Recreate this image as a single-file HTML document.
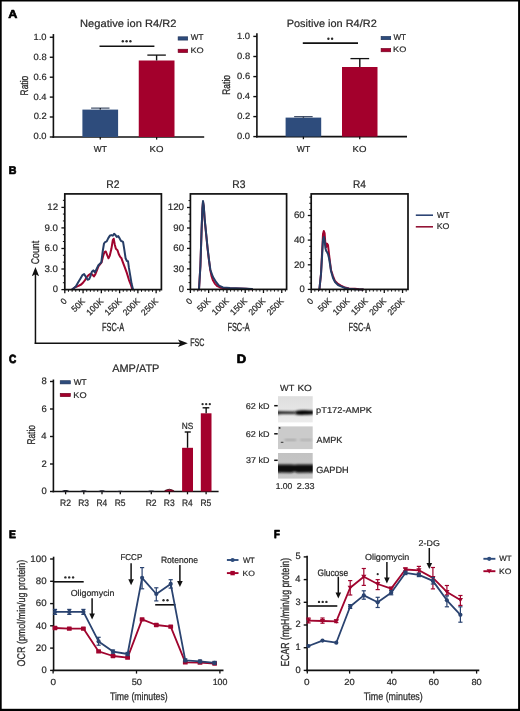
<!DOCTYPE html>
<html><head><meta charset="utf-8"><style>
html,body{margin:0;padding:0;background:#fff;width:520px;height:711px;overflow:hidden}
svg{display:block;will-change:transform}
text{font-family:"Liberation Sans",sans-serif;text-rendering:geometricPrecision}
</style></head><body>
<svg width="520" height="711" viewBox="0 0 520 711" font-family="Liberation Sans, sans-serif" text-rendering="geometricPrecision">
<defs><filter id="bl" x="-20%" y="-50%" width="140%" height="200%"><feGaussianBlur stdDeviation="0.9"/></filter><filter id="bl2" x="-20%" y="-50%" width="140%" height="200%"><feGaussianBlur stdDeviation="0.6"/></filter><filter id="bl3" x="-20%" y="-80%" width="140%" height="260%"><feGaussianBlur stdDeviation="1.0 0.8"/></filter></defs>
<rect x="0.00" y="0.00" width="520.00" height="711.00" fill="#fff"/>
<text transform="translate(8.33 18.15) scale(1.1034 1)" font-size="11.48" font-weight="bold" fill="#000" stroke="#000" stroke-width="0.63" stroke-linejoin="round">A</text>
<text transform="translate(8.74 174.15) scale(0.9648 1)" font-size="11.05" font-weight="bold" fill="#000" stroke="#000" stroke-width="0.73" stroke-linejoin="round">B</text>
<text transform="translate(8.94 363.15) scale(0.8470 1)" font-size="11.92" font-weight="bold" fill="#000" stroke="#000" stroke-width="0.83" stroke-linejoin="round">C</text>
<text transform="translate(236.78 363.15) scale(1.0684 1)" font-size="12.21" font-weight="bold" fill="#000" stroke="#000" stroke-width="0.66" stroke-linejoin="round">D</text>
<text transform="translate(8.96 538.15) scale(0.9359 1)" font-size="11.05" font-weight="bold" fill="#000" stroke="#000" stroke-width="0.75" stroke-linejoin="round">E</text>
<text transform="translate(274.00 538.45) scale(0.8411 1)" font-size="11.48" font-weight="bold" fill="#000" stroke="#000" stroke-width="0.83" stroke-linejoin="round">F</text>
<line x1="53.40" y1="34.05" x2="53.40" y2="137.80" stroke="#111" stroke-width="1.60" stroke-linecap="butt"/>
<line x1="52.60" y1="137.00" x2="204.20" y2="137.00" stroke="#111" stroke-width="1.60" stroke-linecap="butt"/>
<line x1="49.80" y1="37.25" x2="53.40" y2="37.25" stroke="#111" stroke-width="1.40" stroke-linecap="butt"/>
<text transform="translate(33.54 39.69) scale(1.0310 1)" font-size="9.08" fill="#2a2a2a" stroke="#2a2a2a" stroke-width="0.21" stroke-linejoin="round">1.0</text>
<line x1="49.80" y1="57.25" x2="53.40" y2="57.25" stroke="#111" stroke-width="1.40" stroke-linecap="butt"/>
<text transform="translate(33.57 59.69) scale(1.0315 1)" font-size="9.08" fill="#2a2a2a" stroke="#2a2a2a" stroke-width="0.21" stroke-linejoin="round">0.8</text>
<line x1="49.80" y1="77.20" x2="53.40" y2="77.20" stroke="#111" stroke-width="1.40" stroke-linecap="butt"/>
<text transform="translate(33.58 79.64) scale(1.0315 1)" font-size="9.08" fill="#2a2a2a" stroke="#2a2a2a" stroke-width="0.21" stroke-linejoin="round">0.6</text>
<line x1="49.80" y1="97.10" x2="53.40" y2="97.10" stroke="#111" stroke-width="1.40" stroke-linecap="butt"/>
<text transform="translate(33.44 99.54) scale(1.0317 1)" font-size="9.08" fill="#2a2a2a" stroke="#2a2a2a" stroke-width="0.21" stroke-linejoin="round">0.4</text>
<line x1="49.80" y1="117.00" x2="53.40" y2="117.00" stroke="#111" stroke-width="1.40" stroke-linecap="butt"/>
<text transform="translate(33.64 119.44) scale(1.0314 1)" font-size="9.08" fill="#2a2a2a" stroke="#2a2a2a" stroke-width="0.21" stroke-linejoin="round">0.2</text>
<line x1="49.80" y1="137.00" x2="53.40" y2="137.00" stroke="#111" stroke-width="1.40" stroke-linecap="butt"/>
<text transform="translate(33.53 139.44) scale(1.0315 1)" font-size="9.08" fill="#2a2a2a" stroke="#2a2a2a" stroke-width="0.21" stroke-linejoin="round">0.0</text>
<text transform="translate(27.59 95.49) rotate(-90) scale(0.7711 1)" font-size="11.02" fill="#2a2a2a" stroke="#2a2a2a" stroke-width="0.29" stroke-linejoin="round">Ratio</text>
<text transform="translate(80.10 26.64) scale(1.0440 1)" font-size="10.65" fill="#2a2a2a" stroke="#2a2a2a" stroke-width="0.21" stroke-linejoin="round">Negative ion R4/R2</text>
<rect x="82.40" y="109.60" width="35.70" height="27.40" fill="#2e4c7c"/>
<line x1="100.25" y1="137.00" x2="100.25" y2="139.60" stroke="#111" stroke-width="1.30" stroke-linecap="butt"/>
<text transform="translate(93.77 151.79) scale(0.9702 1)" font-size="8.69" fill="#2a2a2a" stroke="#2a2a2a" stroke-width="0.23" stroke-linejoin="round">WT</text>
<rect x="138.75" y="60.50" width="35.75" height="76.50" fill="#a3002c"/>
<line x1="156.62" y1="137.00" x2="156.62" y2="139.60" stroke="#111" stroke-width="1.30" stroke-linecap="butt"/>
<text transform="translate(149.49 151.79) scale(1.1094 1)" font-size="8.69" fill="#2a2a2a" stroke="#2a2a2a" stroke-width="0.20" stroke-linejoin="round">KO</text>
<line x1="100.30" y1="108.10" x2="100.30" y2="109.60" stroke="#111" stroke-width="1.40" stroke-linecap="butt"/>
<line x1="91.10" y1="108.10" x2="109.50" y2="108.10" stroke="#1a2a48" stroke-width="1.00" stroke-linecap="butt"/>
<line x1="156.60" y1="55.10" x2="156.60" y2="60.50" stroke="#111" stroke-width="1.40" stroke-linecap="butt"/>
<line x1="147.35" y1="55.10" x2="165.85" y2="55.10" stroke="#111" stroke-width="1.30" stroke-linecap="butt"/>
<line x1="99.50" y1="46.20" x2="154.40" y2="46.20" stroke="#111" stroke-width="1.60" stroke-linecap="butt"/>
<circle cx="122.80" cy="41.30" r="1.20" fill="#2a2a2a"/>
<circle cx="126.60" cy="41.30" r="1.20" fill="#2a2a2a"/>
<circle cx="130.40" cy="41.30" r="1.20" fill="#2a2a2a"/>
<rect x="178.10" y="36.80" width="9.60" height="3.30" fill="#2e4c7c" stroke="#1c2f55" stroke-width="0.6"/>
<rect x="178.10" y="49.20" width="9.60" height="3.40" fill="#a3002c" stroke="#6a0020" stroke-width="0.6"/>
<text transform="translate(190.87 40.39) scale(0.9818 1)" font-size="8.26" fill="#2a2a2a" stroke="#2a2a2a" stroke-width="0.22" stroke-linejoin="round">WT</text>
<text transform="translate(190.46 52.99) scale(1.1534 1)" font-size="7.97" fill="#2a2a2a" stroke="#2a2a2a" stroke-width="0.19" stroke-linejoin="round">KO</text>
<line x1="256.90" y1="33.20" x2="256.90" y2="137.40" stroke="#111" stroke-width="1.60" stroke-linecap="butt"/>
<line x1="256.10" y1="136.60" x2="407.00" y2="136.60" stroke="#111" stroke-width="1.60" stroke-linecap="butt"/>
<line x1="253.30" y1="36.40" x2="256.90" y2="36.40" stroke="#111" stroke-width="1.40" stroke-linecap="butt"/>
<text transform="translate(237.04 38.84) scale(1.0310 1)" font-size="9.08" fill="#2a2a2a" stroke="#2a2a2a" stroke-width="0.21" stroke-linejoin="round">1.0</text>
<line x1="253.30" y1="56.50" x2="256.90" y2="56.50" stroke="#111" stroke-width="1.40" stroke-linecap="butt"/>
<text transform="translate(237.07 58.94) scale(1.0315 1)" font-size="9.08" fill="#2a2a2a" stroke="#2a2a2a" stroke-width="0.21" stroke-linejoin="round">0.8</text>
<line x1="253.30" y1="76.60" x2="256.90" y2="76.60" stroke="#111" stroke-width="1.40" stroke-linecap="butt"/>
<text transform="translate(237.08 79.04) scale(1.0315 1)" font-size="9.08" fill="#2a2a2a" stroke="#2a2a2a" stroke-width="0.21" stroke-linejoin="round">0.6</text>
<line x1="253.30" y1="96.60" x2="256.90" y2="96.60" stroke="#111" stroke-width="1.40" stroke-linecap="butt"/>
<text transform="translate(236.94 99.04) scale(1.0317 1)" font-size="9.08" fill="#2a2a2a" stroke="#2a2a2a" stroke-width="0.21" stroke-linejoin="round">0.4</text>
<line x1="253.30" y1="116.60" x2="256.90" y2="116.60" stroke="#111" stroke-width="1.40" stroke-linecap="butt"/>
<text transform="translate(237.14 119.04) scale(1.0314 1)" font-size="9.08" fill="#2a2a2a" stroke="#2a2a2a" stroke-width="0.21" stroke-linejoin="round">0.2</text>
<line x1="253.30" y1="136.60" x2="256.90" y2="136.60" stroke="#111" stroke-width="1.40" stroke-linecap="butt"/>
<text transform="translate(237.03 139.04) scale(1.0315 1)" font-size="9.08" fill="#2a2a2a" stroke="#2a2a2a" stroke-width="0.21" stroke-linejoin="round">0.0</text>
<text transform="translate(230.49 94.79) rotate(-90) scale(0.7711 1)" font-size="11.02" fill="#2a2a2a" stroke="#2a2a2a" stroke-width="0.29" stroke-linejoin="round">Ratio</text>
<text transform="translate(286.71 26.64) scale(1.0284 1)" font-size="10.65" fill="#2a2a2a" stroke="#2a2a2a" stroke-width="0.21" stroke-linejoin="round">Positive ion R4/R2</text>
<rect x="285.60" y="117.60" width="35.60" height="19.00" fill="#2e4c7c"/>
<line x1="303.40" y1="136.60" x2="303.40" y2="139.20" stroke="#111" stroke-width="1.30" stroke-linecap="butt"/>
<text transform="translate(296.82 151.79) scale(0.9853 1)" font-size="8.69" fill="#2a2a2a" stroke="#2a2a2a" stroke-width="0.22" stroke-linejoin="round">WT</text>
<rect x="342.00" y="67.00" width="35.50" height="69.60" fill="#a3002c"/>
<line x1="359.75" y1="136.60" x2="359.75" y2="139.20" stroke="#111" stroke-width="1.30" stroke-linecap="butt"/>
<text transform="translate(352.62 151.79) scale(1.1094 1)" font-size="8.69" fill="#2a2a2a" stroke="#2a2a2a" stroke-width="0.20" stroke-linejoin="round">KO</text>
<line x1="303.40" y1="116.70" x2="303.40" y2="117.60" stroke="#111" stroke-width="1.40" stroke-linecap="butt"/>
<line x1="294.15" y1="116.70" x2="312.65" y2="116.70" stroke="#1a2a48" stroke-width="1.00" stroke-linecap="butt"/>
<line x1="359.80" y1="58.60" x2="359.80" y2="67.00" stroke="#111" stroke-width="1.40" stroke-linecap="butt"/>
<line x1="350.45" y1="58.60" x2="369.15" y2="58.60" stroke="#111" stroke-width="1.30" stroke-linecap="butt"/>
<line x1="302.80" y1="43.10" x2="358.00" y2="43.10" stroke="#111" stroke-width="1.60" stroke-linecap="butt"/>
<circle cx="328.40" cy="38.70" r="1.20" fill="#2a2a2a"/>
<circle cx="332.10" cy="38.70" r="1.20" fill="#2a2a2a"/>
<rect x="381.10" y="36.40" width="9.60" height="3.30" fill="#2e4c7c" stroke="#1c2f55" stroke-width="0.6"/>
<rect x="381.10" y="48.40" width="9.60" height="3.40" fill="#a3002c" stroke="#6a0020" stroke-width="0.6"/>
<text transform="translate(393.47 39.99) scale(0.9818 1)" font-size="8.26" fill="#2a2a2a" stroke="#2a2a2a" stroke-width="0.22" stroke-linejoin="round">WT</text>
<text transform="translate(393.06 52.19) scale(1.1534 1)" font-size="7.97" fill="#2a2a2a" stroke="#2a2a2a" stroke-width="0.19" stroke-linejoin="round">KO</text>
<polyline points="72.40,289.20 75.10,287.20 78.50,285.90 81.20,284.50 83.20,282.50 85.20,279.80 87.20,276.40 89.00,274.80 90.80,273.70 92.60,274.80 93.90,276.40 95.30,274.40 96.90,270.40 98.40,266.30 100.00,264.30 101.60,262.30 103.10,256.20 104.40,252.20 105.80,251.50 107.10,254.90 108.50,258.30 109.80,255.60 111.40,248.80 112.80,240.10 113.70,238.70 114.80,244.80 115.90,248.80 117.50,250.20 118.80,254.20 120.20,256.90 121.50,258.30 122.90,262.30 124.90,267.70 126.90,273.10 128.90,279.80 131.00,285.20 132.30,289.20" fill="none" stroke="#a0042e" stroke-width="2.00" stroke-linejoin="round" stroke-linecap="round"/>
<polyline points="72.40,289.20 75.80,286.50 78.50,281.80 80.50,278.50 82.50,275.10 84.10,274.10 85.90,277.10 87.60,279.80 89.20,279.10 90.60,275.80 91.90,271.70 93.30,270.40 94.90,272.40 96.60,269.00 98.40,265.30 100.00,263.60 101.30,262.30 102.70,251.50 104.00,243.50 105.10,242.10 106.70,241.40 108.30,238.10 110.10,235.40 111.40,235.10 112.80,235.70 114.10,233.80 115.50,235.10 116.80,237.00 118.20,236.10 119.50,238.10 120.90,240.80 122.20,241.40 123.10,242.10 124.20,248.80 125.60,258.30 126.90,261.00 128.00,261.20 128.90,267.70 130.30,275.80 131.60,283.80 133.00,289.20" fill="none" stroke="#263d66" stroke-width="2.00" stroke-linejoin="round" stroke-linecap="round"/>
<rect x="64.80" y="193.90" width="96.60" height="95.70" fill="none" stroke="#111" stroke-width="1.7"/>
<line x1="61.40" y1="207.40" x2="64.80" y2="207.40" stroke="#111" stroke-width="1.30" stroke-linecap="butt"/>
<text transform="translate(47.29 210.19) scale(1.0264 1)" font-size="9.45" fill="#2a2a2a" stroke="#2a2a2a" stroke-width="0.21" stroke-linejoin="round">12</text>
<line x1="61.40" y1="227.90" x2="64.80" y2="227.90" stroke="#111" stroke-width="1.30" stroke-linecap="butt"/>
<text transform="translate(44.42 230.69) scale(1.0321 1)" font-size="9.45" fill="#2a2a2a" stroke="#2a2a2a" stroke-width="0.21" stroke-linejoin="round">9.0</text>
<line x1="61.40" y1="248.50" x2="64.80" y2="248.50" stroke="#111" stroke-width="1.30" stroke-linecap="butt"/>
<text transform="translate(44.42 251.29) scale(1.0321 1)" font-size="9.45" fill="#2a2a2a" stroke="#2a2a2a" stroke-width="0.21" stroke-linejoin="round">6.0</text>
<line x1="61.40" y1="269.00" x2="64.80" y2="269.00" stroke="#111" stroke-width="1.30" stroke-linecap="butt"/>
<text transform="translate(44.41 271.79) scale(1.0323 1)" font-size="9.45" fill="#2a2a2a" stroke="#2a2a2a" stroke-width="0.21" stroke-linejoin="round">3.0</text>
<line x1="61.40" y1="289.60" x2="64.80" y2="289.60" stroke="#111" stroke-width="1.30" stroke-linecap="butt"/>
<text transform="translate(52.70 292.39) scale(1.0013 1)" font-size="9.45" fill="#2a2a2a" stroke="#2a2a2a" stroke-width="0.22" stroke-linejoin="round">0</text>
<line x1="62.90" y1="282.73" x2="64.80" y2="282.73" stroke="#111" stroke-width="1.00" stroke-linecap="butt"/>
<line x1="62.90" y1="275.87" x2="64.80" y2="275.87" stroke="#111" stroke-width="1.00" stroke-linecap="butt"/>
<line x1="62.90" y1="262.13" x2="64.80" y2="262.13" stroke="#111" stroke-width="1.00" stroke-linecap="butt"/>
<line x1="62.90" y1="255.27" x2="64.80" y2="255.27" stroke="#111" stroke-width="1.00" stroke-linecap="butt"/>
<line x1="62.90" y1="241.53" x2="64.80" y2="241.53" stroke="#111" stroke-width="1.00" stroke-linecap="butt"/>
<line x1="62.90" y1="234.67" x2="64.80" y2="234.67" stroke="#111" stroke-width="1.00" stroke-linecap="butt"/>
<line x1="62.90" y1="220.93" x2="64.80" y2="220.93" stroke="#111" stroke-width="1.00" stroke-linecap="butt"/>
<line x1="62.90" y1="214.07" x2="64.80" y2="214.07" stroke="#111" stroke-width="1.00" stroke-linecap="butt"/>
<line x1="62.90" y1="200.33" x2="64.80" y2="200.33" stroke="#111" stroke-width="1.00" stroke-linecap="butt"/>
<line x1="64.80" y1="289.60" x2="64.80" y2="293.20" stroke="#111" stroke-width="1.30" stroke-linecap="butt"/>
<line x1="68.45" y1="289.60" x2="68.45" y2="291.80" stroke="#111" stroke-width="1.00" stroke-linecap="butt"/>
<line x1="72.11" y1="289.60" x2="72.11" y2="291.80" stroke="#111" stroke-width="1.00" stroke-linecap="butt"/>
<line x1="75.76" y1="289.60" x2="75.76" y2="291.80" stroke="#111" stroke-width="1.00" stroke-linecap="butt"/>
<line x1="79.42" y1="289.60" x2="79.42" y2="291.80" stroke="#111" stroke-width="1.00" stroke-linecap="butt"/>
<line x1="83.07" y1="289.60" x2="83.07" y2="293.20" stroke="#111" stroke-width="1.30" stroke-linecap="butt"/>
<line x1="86.72" y1="289.60" x2="86.72" y2="291.80" stroke="#111" stroke-width="1.00" stroke-linecap="butt"/>
<line x1="90.38" y1="289.60" x2="90.38" y2="291.80" stroke="#111" stroke-width="1.00" stroke-linecap="butt"/>
<line x1="94.03" y1="289.60" x2="94.03" y2="291.80" stroke="#111" stroke-width="1.00" stroke-linecap="butt"/>
<line x1="97.69" y1="289.60" x2="97.69" y2="291.80" stroke="#111" stroke-width="1.00" stroke-linecap="butt"/>
<line x1="101.34" y1="289.60" x2="101.34" y2="293.20" stroke="#111" stroke-width="1.30" stroke-linecap="butt"/>
<line x1="104.99" y1="289.60" x2="104.99" y2="291.80" stroke="#111" stroke-width="1.00" stroke-linecap="butt"/>
<line x1="108.65" y1="289.60" x2="108.65" y2="291.80" stroke="#111" stroke-width="1.00" stroke-linecap="butt"/>
<line x1="112.30" y1="289.60" x2="112.30" y2="291.80" stroke="#111" stroke-width="1.00" stroke-linecap="butt"/>
<line x1="115.96" y1="289.60" x2="115.96" y2="291.80" stroke="#111" stroke-width="1.00" stroke-linecap="butt"/>
<line x1="119.61" y1="289.60" x2="119.61" y2="293.20" stroke="#111" stroke-width="1.30" stroke-linecap="butt"/>
<line x1="123.26" y1="289.60" x2="123.26" y2="291.80" stroke="#111" stroke-width="1.00" stroke-linecap="butt"/>
<line x1="126.92" y1="289.60" x2="126.92" y2="291.80" stroke="#111" stroke-width="1.00" stroke-linecap="butt"/>
<line x1="130.57" y1="289.60" x2="130.57" y2="291.80" stroke="#111" stroke-width="1.00" stroke-linecap="butt"/>
<line x1="134.23" y1="289.60" x2="134.23" y2="291.80" stroke="#111" stroke-width="1.00" stroke-linecap="butt"/>
<line x1="137.88" y1="289.60" x2="137.88" y2="293.20" stroke="#111" stroke-width="1.30" stroke-linecap="butt"/>
<line x1="141.53" y1="289.60" x2="141.53" y2="291.80" stroke="#111" stroke-width="1.00" stroke-linecap="butt"/>
<line x1="145.19" y1="289.60" x2="145.19" y2="291.80" stroke="#111" stroke-width="1.00" stroke-linecap="butt"/>
<line x1="148.84" y1="289.60" x2="148.84" y2="291.80" stroke="#111" stroke-width="1.00" stroke-linecap="butt"/>
<line x1="152.50" y1="289.60" x2="152.50" y2="291.80" stroke="#111" stroke-width="1.00" stroke-linecap="butt"/>
<line x1="156.15" y1="289.60" x2="156.15" y2="293.20" stroke="#111" stroke-width="1.30" stroke-linecap="butt"/>
<line x1="159.80" y1="289.60" x2="159.80" y2="291.80" stroke="#111" stroke-width="1.00" stroke-linecap="butt"/>
<text transform="translate(67.40 301.70) rotate(-45)" font-size="8.6" text-anchor="end" fill="#2a2a2a" stroke="#2a2a2a" stroke-width="0.22">0</text>
<text transform="translate(85.67 301.70) rotate(-45)" font-size="8.6" text-anchor="end" fill="#2a2a2a" stroke="#2a2a2a" stroke-width="0.22">50K</text>
<text transform="translate(103.94 301.70) rotate(-45)" font-size="8.6" text-anchor="end" fill="#2a2a2a" stroke="#2a2a2a" stroke-width="0.22">100K</text>
<text transform="translate(122.21 301.70) rotate(-45)" font-size="8.6" text-anchor="end" fill="#2a2a2a" stroke="#2a2a2a" stroke-width="0.22">150K</text>
<text transform="translate(140.48 301.70) rotate(-45)" font-size="8.6" text-anchor="end" fill="#2a2a2a" stroke="#2a2a2a" stroke-width="0.22">200K</text>
<text transform="translate(158.75 301.70) rotate(-45)" font-size="8.6" text-anchor="end" fill="#2a2a2a" stroke="#2a2a2a" stroke-width="0.22">250K</text>
<text transform="translate(106.16 187.69) scale(0.9409 1)" font-size="11.02" fill="#2a2a2a" stroke="#2a2a2a" stroke-width="0.23" stroke-linejoin="round">R2</text>
<text transform="translate(102.00 330.69) scale(0.6301 1)" font-size="11.74" fill="#2a2a2a" stroke="#2a2a2a" stroke-width="0.35" stroke-linejoin="round">FSC-A</text>
<polyline points="199.00,289.40 200.40,266.00 201.60,230.00 202.40,209.00 203.00,202.00 203.80,207.00 204.60,219.00 206.00,233.00 207.60,249.00 209.00,260.40 210.20,269.60 211.40,275.60 212.80,280.00 214.80,283.60 217.40,286.20 221.00,287.80 226.00,288.20 236.00,288.40 246.00,288.80 252.00,289.20" fill="none" stroke="#a0042e" stroke-width="2.00" stroke-linejoin="round" stroke-linecap="round"/>
<polyline points="199.00,289.40 200.40,266.00 201.60,230.00 202.40,208.00 203.00,201.00 203.80,206.00 204.60,218.00 206.00,232.00 207.60,248.00 209.00,260.00 210.40,270.00 213.00,277.00 216.00,282.00 219.00,285.60 223.00,287.40 230.00,288.00 242.00,288.40 252.00,289.00" fill="none" stroke="#263d66" stroke-width="2.00" stroke-linejoin="round" stroke-linecap="round"/>
<rect x="190.40" y="193.90" width="96.20" height="95.50" fill="none" stroke="#111" stroke-width="1.7"/>
<line x1="187.00" y1="207.50" x2="190.40" y2="207.50" stroke="#111" stroke-width="1.30" stroke-linecap="butt"/>
<text transform="translate(167.76 210.29) scale(1.0350 1)" font-size="9.45" fill="#2a2a2a" stroke="#2a2a2a" stroke-width="0.21" stroke-linejoin="round">120</text>
<line x1="187.00" y1="228.00" x2="190.40" y2="228.00" stroke="#111" stroke-width="1.30" stroke-linecap="butt"/>
<text transform="translate(173.27 230.79) scale(1.0273 1)" font-size="9.45" fill="#2a2a2a" stroke="#2a2a2a" stroke-width="0.21" stroke-linejoin="round">90</text>
<line x1="187.00" y1="248.40" x2="190.40" y2="248.40" stroke="#111" stroke-width="1.30" stroke-linecap="butt"/>
<text transform="translate(173.27 251.19) scale(1.0272 1)" font-size="9.45" fill="#2a2a2a" stroke="#2a2a2a" stroke-width="0.21" stroke-linejoin="round">60</text>
<line x1="187.00" y1="268.90" x2="190.40" y2="268.90" stroke="#111" stroke-width="1.30" stroke-linecap="butt"/>
<text transform="translate(173.27 271.69) scale(1.0275 1)" font-size="9.45" fill="#2a2a2a" stroke="#2a2a2a" stroke-width="0.21" stroke-linejoin="round">30</text>
<line x1="187.00" y1="289.40" x2="190.40" y2="289.40" stroke="#111" stroke-width="1.30" stroke-linecap="butt"/>
<text transform="translate(178.80 292.19) scale(1.0013 1)" font-size="9.45" fill="#2a2a2a" stroke="#2a2a2a" stroke-width="0.22" stroke-linejoin="round">0</text>
<line x1="188.50" y1="282.57" x2="190.40" y2="282.57" stroke="#111" stroke-width="1.00" stroke-linecap="butt"/>
<line x1="188.50" y1="275.73" x2="190.40" y2="275.73" stroke="#111" stroke-width="1.00" stroke-linecap="butt"/>
<line x1="188.50" y1="262.07" x2="190.40" y2="262.07" stroke="#111" stroke-width="1.00" stroke-linecap="butt"/>
<line x1="188.50" y1="255.23" x2="190.40" y2="255.23" stroke="#111" stroke-width="1.00" stroke-linecap="butt"/>
<line x1="188.50" y1="241.57" x2="190.40" y2="241.57" stroke="#111" stroke-width="1.00" stroke-linecap="butt"/>
<line x1="188.50" y1="234.73" x2="190.40" y2="234.73" stroke="#111" stroke-width="1.00" stroke-linecap="butt"/>
<line x1="188.50" y1="221.07" x2="190.40" y2="221.07" stroke="#111" stroke-width="1.00" stroke-linecap="butt"/>
<line x1="188.50" y1="214.23" x2="190.40" y2="214.23" stroke="#111" stroke-width="1.00" stroke-linecap="butt"/>
<line x1="188.50" y1="200.57" x2="190.40" y2="200.57" stroke="#111" stroke-width="1.00" stroke-linecap="butt"/>
<line x1="190.40" y1="289.40" x2="190.40" y2="293.00" stroke="#111" stroke-width="1.30" stroke-linecap="butt"/>
<line x1="194.05" y1="289.40" x2="194.05" y2="291.60" stroke="#111" stroke-width="1.00" stroke-linecap="butt"/>
<line x1="197.71" y1="289.40" x2="197.71" y2="291.60" stroke="#111" stroke-width="1.00" stroke-linecap="butt"/>
<line x1="201.36" y1="289.40" x2="201.36" y2="291.60" stroke="#111" stroke-width="1.00" stroke-linecap="butt"/>
<line x1="205.02" y1="289.40" x2="205.02" y2="291.60" stroke="#111" stroke-width="1.00" stroke-linecap="butt"/>
<line x1="208.67" y1="289.40" x2="208.67" y2="293.00" stroke="#111" stroke-width="1.30" stroke-linecap="butt"/>
<line x1="212.32" y1="289.40" x2="212.32" y2="291.60" stroke="#111" stroke-width="1.00" stroke-linecap="butt"/>
<line x1="215.98" y1="289.40" x2="215.98" y2="291.60" stroke="#111" stroke-width="1.00" stroke-linecap="butt"/>
<line x1="219.63" y1="289.40" x2="219.63" y2="291.60" stroke="#111" stroke-width="1.00" stroke-linecap="butt"/>
<line x1="223.29" y1="289.40" x2="223.29" y2="291.60" stroke="#111" stroke-width="1.00" stroke-linecap="butt"/>
<line x1="226.94" y1="289.40" x2="226.94" y2="293.00" stroke="#111" stroke-width="1.30" stroke-linecap="butt"/>
<line x1="230.59" y1="289.40" x2="230.59" y2="291.60" stroke="#111" stroke-width="1.00" stroke-linecap="butt"/>
<line x1="234.25" y1="289.40" x2="234.25" y2="291.60" stroke="#111" stroke-width="1.00" stroke-linecap="butt"/>
<line x1="237.90" y1="289.40" x2="237.90" y2="291.60" stroke="#111" stroke-width="1.00" stroke-linecap="butt"/>
<line x1="241.56" y1="289.40" x2="241.56" y2="291.60" stroke="#111" stroke-width="1.00" stroke-linecap="butt"/>
<line x1="245.21" y1="289.40" x2="245.21" y2="293.00" stroke="#111" stroke-width="1.30" stroke-linecap="butt"/>
<line x1="248.86" y1="289.40" x2="248.86" y2="291.60" stroke="#111" stroke-width="1.00" stroke-linecap="butt"/>
<line x1="252.52" y1="289.40" x2="252.52" y2="291.60" stroke="#111" stroke-width="1.00" stroke-linecap="butt"/>
<line x1="256.17" y1="289.40" x2="256.17" y2="291.60" stroke="#111" stroke-width="1.00" stroke-linecap="butt"/>
<line x1="259.83" y1="289.40" x2="259.83" y2="291.60" stroke="#111" stroke-width="1.00" stroke-linecap="butt"/>
<line x1="263.48" y1="289.40" x2="263.48" y2="293.00" stroke="#111" stroke-width="1.30" stroke-linecap="butt"/>
<line x1="267.13" y1="289.40" x2="267.13" y2="291.60" stroke="#111" stroke-width="1.00" stroke-linecap="butt"/>
<line x1="270.79" y1="289.40" x2="270.79" y2="291.60" stroke="#111" stroke-width="1.00" stroke-linecap="butt"/>
<line x1="274.44" y1="289.40" x2="274.44" y2="291.60" stroke="#111" stroke-width="1.00" stroke-linecap="butt"/>
<line x1="278.10" y1="289.40" x2="278.10" y2="291.60" stroke="#111" stroke-width="1.00" stroke-linecap="butt"/>
<line x1="281.75" y1="289.40" x2="281.75" y2="293.00" stroke="#111" stroke-width="1.30" stroke-linecap="butt"/>
<line x1="285.40" y1="289.40" x2="285.40" y2="291.60" stroke="#111" stroke-width="1.00" stroke-linecap="butt"/>
<text transform="translate(193.00 301.50) rotate(-45)" font-size="8.6" text-anchor="end" fill="#2a2a2a" stroke="#2a2a2a" stroke-width="0.22">0</text>
<text transform="translate(211.27 301.50) rotate(-45)" font-size="8.6" text-anchor="end" fill="#2a2a2a" stroke="#2a2a2a" stroke-width="0.22">50K</text>
<text transform="translate(229.54 301.50) rotate(-45)" font-size="8.6" text-anchor="end" fill="#2a2a2a" stroke="#2a2a2a" stroke-width="0.22">100K</text>
<text transform="translate(247.81 301.50) rotate(-45)" font-size="8.6" text-anchor="end" fill="#2a2a2a" stroke="#2a2a2a" stroke-width="0.22">150K</text>
<text transform="translate(266.08 301.50) rotate(-45)" font-size="8.6" text-anchor="end" fill="#2a2a2a" stroke="#2a2a2a" stroke-width="0.22">200K</text>
<text transform="translate(284.35 301.50) rotate(-45)" font-size="8.6" text-anchor="end" fill="#2a2a2a" stroke="#2a2a2a" stroke-width="0.22">250K</text>
<text transform="translate(232.31 187.69) scale(0.9357 1)" font-size="11.02" fill="#2a2a2a" stroke="#2a2a2a" stroke-width="0.24" stroke-linejoin="round">R3</text>
<text transform="translate(227.40 330.69) scale(0.6301 1)" font-size="11.74" fill="#2a2a2a" stroke="#2a2a2a" stroke-width="0.35" stroke-linejoin="round">FSC-A</text>
<polyline points="319.40,289.40 321.00,274.00 322.20,250.00 323.00,234.00 323.80,231.00 324.60,233.00 325.40,244.00 326.20,247.00 327.00,243.60 328.00,245.00 329.00,254.00 330.00,262.00 331.00,270.00 333.00,276.00 335.00,281.00 338.00,284.00 341.00,285.60 345.00,287.60 349.00,288.40 355.00,288.80 359.00,289.20 363.00,289.40" fill="none" stroke="#a0042e" stroke-width="2.00" stroke-linejoin="round" stroke-linecap="round"/>
<polyline points="319.40,289.40 321.00,274.00 322.20,254.00 323.00,240.00 323.80,237.00 324.60,240.00 325.40,248.00 326.20,251.00 327.00,252.00 328.00,254.00 329.00,258.00 330.00,264.00 331.00,271.00 333.00,278.00 335.00,282.00 338.00,285.00 341.00,286.40 345.00,288.00 349.00,288.80 355.00,289.20 363.00,289.40" fill="none" stroke="#263d66" stroke-width="2.00" stroke-linejoin="round" stroke-linecap="round"/>
<rect x="311.20" y="193.90" width="96.80" height="95.50" fill="none" stroke="#111" stroke-width="1.7"/>
<line x1="307.80" y1="215.50" x2="311.20" y2="215.50" stroke="#111" stroke-width="1.30" stroke-linecap="butt"/>
<text transform="translate(293.97 218.29) scale(1.0272 1)" font-size="9.45" fill="#2a2a2a" stroke="#2a2a2a" stroke-width="0.21" stroke-linejoin="round">60</text>
<line x1="307.80" y1="240.10" x2="311.20" y2="240.10" stroke="#111" stroke-width="1.30" stroke-linecap="butt"/>
<text transform="translate(293.97 242.89) scale(1.0278 1)" font-size="9.45" fill="#2a2a2a" stroke="#2a2a2a" stroke-width="0.21" stroke-linejoin="round">40</text>
<line x1="307.80" y1="264.80" x2="311.20" y2="264.80" stroke="#111" stroke-width="1.30" stroke-linecap="butt"/>
<text transform="translate(293.97 267.59) scale(1.0272 1)" font-size="9.45" fill="#2a2a2a" stroke="#2a2a2a" stroke-width="0.21" stroke-linejoin="round">20</text>
<line x1="307.80" y1="289.40" x2="311.20" y2="289.40" stroke="#111" stroke-width="1.30" stroke-linecap="butt"/>
<text transform="translate(299.50 292.19) scale(1.0013 1)" font-size="9.45" fill="#2a2a2a" stroke="#2a2a2a" stroke-width="0.22" stroke-linejoin="round">0</text>
<line x1="309.30" y1="283.25" x2="311.20" y2="283.25" stroke="#111" stroke-width="1.00" stroke-linecap="butt"/>
<line x1="309.30" y1="277.10" x2="311.20" y2="277.10" stroke="#111" stroke-width="1.00" stroke-linecap="butt"/>
<line x1="309.30" y1="270.95" x2="311.20" y2="270.95" stroke="#111" stroke-width="1.00" stroke-linecap="butt"/>
<line x1="309.30" y1="258.65" x2="311.20" y2="258.65" stroke="#111" stroke-width="1.00" stroke-linecap="butt"/>
<line x1="309.30" y1="252.50" x2="311.20" y2="252.50" stroke="#111" stroke-width="1.00" stroke-linecap="butt"/>
<line x1="309.30" y1="246.35" x2="311.20" y2="246.35" stroke="#111" stroke-width="1.00" stroke-linecap="butt"/>
<line x1="309.30" y1="234.05" x2="311.20" y2="234.05" stroke="#111" stroke-width="1.00" stroke-linecap="butt"/>
<line x1="309.30" y1="227.90" x2="311.20" y2="227.90" stroke="#111" stroke-width="1.00" stroke-linecap="butt"/>
<line x1="309.30" y1="221.75" x2="311.20" y2="221.75" stroke="#111" stroke-width="1.00" stroke-linecap="butt"/>
<line x1="309.30" y1="209.45" x2="311.20" y2="209.45" stroke="#111" stroke-width="1.00" stroke-linecap="butt"/>
<line x1="309.30" y1="203.30" x2="311.20" y2="203.30" stroke="#111" stroke-width="1.00" stroke-linecap="butt"/>
<line x1="309.30" y1="197.15" x2="311.20" y2="197.15" stroke="#111" stroke-width="1.00" stroke-linecap="butt"/>
<line x1="311.20" y1="289.40" x2="311.20" y2="293.00" stroke="#111" stroke-width="1.30" stroke-linecap="butt"/>
<line x1="314.85" y1="289.40" x2="314.85" y2="291.60" stroke="#111" stroke-width="1.00" stroke-linecap="butt"/>
<line x1="318.51" y1="289.40" x2="318.51" y2="291.60" stroke="#111" stroke-width="1.00" stroke-linecap="butt"/>
<line x1="322.16" y1="289.40" x2="322.16" y2="291.60" stroke="#111" stroke-width="1.00" stroke-linecap="butt"/>
<line x1="325.82" y1="289.40" x2="325.82" y2="291.60" stroke="#111" stroke-width="1.00" stroke-linecap="butt"/>
<line x1="329.47" y1="289.40" x2="329.47" y2="293.00" stroke="#111" stroke-width="1.30" stroke-linecap="butt"/>
<line x1="333.12" y1="289.40" x2="333.12" y2="291.60" stroke="#111" stroke-width="1.00" stroke-linecap="butt"/>
<line x1="336.78" y1="289.40" x2="336.78" y2="291.60" stroke="#111" stroke-width="1.00" stroke-linecap="butt"/>
<line x1="340.43" y1="289.40" x2="340.43" y2="291.60" stroke="#111" stroke-width="1.00" stroke-linecap="butt"/>
<line x1="344.09" y1="289.40" x2="344.09" y2="291.60" stroke="#111" stroke-width="1.00" stroke-linecap="butt"/>
<line x1="347.74" y1="289.40" x2="347.74" y2="293.00" stroke="#111" stroke-width="1.30" stroke-linecap="butt"/>
<line x1="351.39" y1="289.40" x2="351.39" y2="291.60" stroke="#111" stroke-width="1.00" stroke-linecap="butt"/>
<line x1="355.05" y1="289.40" x2="355.05" y2="291.60" stroke="#111" stroke-width="1.00" stroke-linecap="butt"/>
<line x1="358.70" y1="289.40" x2="358.70" y2="291.60" stroke="#111" stroke-width="1.00" stroke-linecap="butt"/>
<line x1="362.36" y1="289.40" x2="362.36" y2="291.60" stroke="#111" stroke-width="1.00" stroke-linecap="butt"/>
<line x1="366.01" y1="289.40" x2="366.01" y2="293.00" stroke="#111" stroke-width="1.30" stroke-linecap="butt"/>
<line x1="369.66" y1="289.40" x2="369.66" y2="291.60" stroke="#111" stroke-width="1.00" stroke-linecap="butt"/>
<line x1="373.32" y1="289.40" x2="373.32" y2="291.60" stroke="#111" stroke-width="1.00" stroke-linecap="butt"/>
<line x1="376.97" y1="289.40" x2="376.97" y2="291.60" stroke="#111" stroke-width="1.00" stroke-linecap="butt"/>
<line x1="380.63" y1="289.40" x2="380.63" y2="291.60" stroke="#111" stroke-width="1.00" stroke-linecap="butt"/>
<line x1="384.28" y1="289.40" x2="384.28" y2="293.00" stroke="#111" stroke-width="1.30" stroke-linecap="butt"/>
<line x1="387.93" y1="289.40" x2="387.93" y2="291.60" stroke="#111" stroke-width="1.00" stroke-linecap="butt"/>
<line x1="391.59" y1="289.40" x2="391.59" y2="291.60" stroke="#111" stroke-width="1.00" stroke-linecap="butt"/>
<line x1="395.24" y1="289.40" x2="395.24" y2="291.60" stroke="#111" stroke-width="1.00" stroke-linecap="butt"/>
<line x1="398.90" y1="289.40" x2="398.90" y2="291.60" stroke="#111" stroke-width="1.00" stroke-linecap="butt"/>
<line x1="402.55" y1="289.40" x2="402.55" y2="293.00" stroke="#111" stroke-width="1.30" stroke-linecap="butt"/>
<line x1="406.20" y1="289.40" x2="406.20" y2="291.60" stroke="#111" stroke-width="1.00" stroke-linecap="butt"/>
<text transform="translate(313.80 301.50) rotate(-45)" font-size="8.6" text-anchor="end" fill="#2a2a2a" stroke="#2a2a2a" stroke-width="0.22">0</text>
<text transform="translate(332.07 301.50) rotate(-45)" font-size="8.6" text-anchor="end" fill="#2a2a2a" stroke="#2a2a2a" stroke-width="0.22">50K</text>
<text transform="translate(350.34 301.50) rotate(-45)" font-size="8.6" text-anchor="end" fill="#2a2a2a" stroke="#2a2a2a" stroke-width="0.22">100K</text>
<text transform="translate(368.61 301.50) rotate(-45)" font-size="8.6" text-anchor="end" fill="#2a2a2a" stroke="#2a2a2a" stroke-width="0.22">150K</text>
<text transform="translate(386.88 301.50) rotate(-45)" font-size="8.6" text-anchor="end" fill="#2a2a2a" stroke="#2a2a2a" stroke-width="0.22">200K</text>
<text transform="translate(405.15 301.50) rotate(-45)" font-size="8.6" text-anchor="end" fill="#2a2a2a" stroke="#2a2a2a" stroke-width="0.22">250K</text>
<text transform="translate(353.02 187.69) scale(0.9240 1)" font-size="11.02" fill="#2a2a2a" stroke="#2a2a2a" stroke-width="0.24" stroke-linejoin="round">R4</text>
<text transform="translate(348.50 330.69) scale(0.6301 1)" font-size="11.74" fill="#2a2a2a" stroke="#2a2a2a" stroke-width="0.35" stroke-linejoin="round">FSC-A</text>
<text transform="translate(38.79 264.34) rotate(-90) scale(0.7886 1)" font-size="11.16" fill="#2a2a2a" stroke="#2a2a2a" stroke-width="0.28" stroke-linejoin="round">Count</text>
<line x1="35.45" y1="273.50" x2="35.45" y2="343.95" stroke="#111" stroke-width="1.50" stroke-linecap="butt"/>
<polygon points="31.8,276.3 35.45,267.0 39.1,276.3 35.45,274.2" fill="#111"/>
<line x1="34.70" y1="343.20" x2="181.00" y2="343.20" stroke="#111" stroke-width="1.60" stroke-linecap="butt"/>
<polygon points="178.0,339.4 187.8,343.2 178.0,347.0 180.2,343.2" fill="#111"/>
<text transform="translate(190.13 346.49) scale(0.6547 1)" font-size="10.87" fill="#2a2a2a" stroke="#2a2a2a" stroke-width="0.34" stroke-linejoin="round">FSC</text>
<line x1="415.80" y1="215.20" x2="433.00" y2="215.20" stroke="#2d4575" stroke-width="1.60" stroke-linecap="butt"/>
<line x1="415.80" y1="226.80" x2="433.00" y2="226.80" stroke="#931436" stroke-width="1.60" stroke-linecap="butt"/>
<text transform="translate(437.07 217.89) scale(0.9659 1)" font-size="8.26" fill="#2a2a2a" stroke="#2a2a2a" stroke-width="0.23" stroke-linejoin="round">WT</text>
<text transform="translate(436.68 229.49) scale(1.0759 1)" font-size="8.26" fill="#2a2a2a" stroke="#2a2a2a" stroke-width="0.20" stroke-linejoin="round">KO</text>
<text transform="translate(112.19 372.19) scale(1.0074 1)" font-size="10.87" fill="#2a2a2a" stroke="#2a2a2a" stroke-width="0.22" stroke-linejoin="round">AMP/ATP</text>
<line x1="53.40" y1="379.50" x2="53.40" y2="492.30" stroke="#111" stroke-width="1.60" stroke-linecap="butt"/>
<line x1="52.60" y1="491.50" x2="218.60" y2="491.50" stroke="#111" stroke-width="1.60" stroke-linecap="butt"/>
<line x1="50.00" y1="381.50" x2="53.40" y2="381.50" stroke="#111" stroke-width="1.40" stroke-linecap="butt"/>
<text transform="translate(41.44 384.29) scale(1.0004 1)" font-size="9.45" fill="#2a2a2a" stroke="#2a2a2a" stroke-width="0.22" stroke-linejoin="round">8</text>
<line x1="50.00" y1="409.00" x2="53.40" y2="409.00" stroke="#111" stroke-width="1.40" stroke-linecap="butt"/>
<text transform="translate(41.45 411.79) scale(0.9995 1)" font-size="9.45" fill="#2a2a2a" stroke="#2a2a2a" stroke-width="0.22" stroke-linejoin="round">6</text>
<line x1="50.00" y1="436.50" x2="53.40" y2="436.50" stroke="#111" stroke-width="1.40" stroke-linecap="butt"/>
<text transform="translate(41.29 439.29) scale(1.0038 1)" font-size="9.45" fill="#2a2a2a" stroke="#2a2a2a" stroke-width="0.22" stroke-linejoin="round">4</text>
<line x1="50.00" y1="464.00" x2="53.40" y2="464.00" stroke="#111" stroke-width="1.40" stroke-linecap="butt"/>
<text transform="translate(41.52 466.79) scale(0.9989 1)" font-size="9.45" fill="#2a2a2a" stroke="#2a2a2a" stroke-width="0.22" stroke-linejoin="round">2</text>
<line x1="50.00" y1="491.50" x2="53.40" y2="491.50" stroke="#111" stroke-width="1.40" stroke-linecap="butt"/>
<text transform="translate(41.40 494.29) scale(1.0013 1)" font-size="9.45" fill="#2a2a2a" stroke="#2a2a2a" stroke-width="0.22" stroke-linejoin="round">0</text>
<text transform="translate(35.09 444.58) rotate(-90) scale(0.7393 1)" font-size="11.31" fill="#2a2a2a" stroke="#2a2a2a" stroke-width="0.30" stroke-linejoin="round">Ratio</text>
<line x1="65.60" y1="491.50" x2="65.60" y2="494.30" stroke="#111" stroke-width="1.30" stroke-linecap="butt"/>
<text transform="translate(60.01 506.39) scale(0.9061 1)" font-size="9.42" fill="#2a2a2a" stroke="#2a2a2a" stroke-width="0.24" stroke-linejoin="round">R2</text>
<line x1="83.80" y1="491.50" x2="83.80" y2="494.30" stroke="#111" stroke-width="1.30" stroke-linecap="butt"/>
<text transform="translate(78.21 506.39) scale(0.9011 1)" font-size="9.42" fill="#2a2a2a" stroke="#2a2a2a" stroke-width="0.24" stroke-linejoin="round">R3</text>
<line x1="102.00" y1="491.50" x2="102.00" y2="494.30" stroke="#111" stroke-width="1.30" stroke-linecap="butt"/>
<text transform="translate(96.42 506.39) scale(0.8898 1)" font-size="9.42" fill="#2a2a2a" stroke="#2a2a2a" stroke-width="0.25" stroke-linejoin="round">R4</text>
<line x1="120.30" y1="491.50" x2="120.30" y2="494.30" stroke="#111" stroke-width="1.30" stroke-linecap="butt"/>
<text transform="translate(114.71 506.39) scale(0.8996 1)" font-size="9.42" fill="#2a2a2a" stroke="#2a2a2a" stroke-width="0.24" stroke-linejoin="round">R5</text>
<line x1="151.30" y1="491.50" x2="151.30" y2="494.30" stroke="#111" stroke-width="1.30" stroke-linecap="butt"/>
<text transform="translate(145.71 506.39) scale(0.9061 1)" font-size="9.42" fill="#2a2a2a" stroke="#2a2a2a" stroke-width="0.24" stroke-linejoin="round">R2</text>
<line x1="169.40" y1="491.50" x2="169.40" y2="494.30" stroke="#111" stroke-width="1.30" stroke-linecap="butt"/>
<text transform="translate(163.81 506.39) scale(0.9011 1)" font-size="9.42" fill="#2a2a2a" stroke="#2a2a2a" stroke-width="0.24" stroke-linejoin="round">R3</text>
<line x1="187.50" y1="491.50" x2="187.50" y2="494.30" stroke="#111" stroke-width="1.30" stroke-linecap="butt"/>
<text transform="translate(181.92 506.39) scale(0.8898 1)" font-size="9.42" fill="#2a2a2a" stroke="#2a2a2a" stroke-width="0.25" stroke-linejoin="round">R4</text>
<line x1="206.10" y1="491.50" x2="206.10" y2="494.30" stroke="#111" stroke-width="1.30" stroke-linecap="butt"/>
<text transform="translate(200.51 506.39) scale(0.8996 1)" font-size="9.42" fill="#2a2a2a" stroke="#2a2a2a" stroke-width="0.24" stroke-linejoin="round">R5</text>
<path d="M61.00,491.80 C63.00,489.50 68.20,489.50 70.20,491.80 Z" fill="#1e1e28"/>
<path d="M79.20,491.80 C81.20,489.80 86.40,489.80 88.40,491.80 Z" fill="#1e1e28"/>
<path d="M97.40,491.80 C99.40,489.80 104.60,489.80 106.60,491.80 Z" fill="#1e1e28"/>
<path d="M115.70,491.80 C117.70,490.50 122.90,490.50 124.90,491.80 Z" fill="#1e1e28"/>
<path d="M146.70,491.80 C148.70,490.20 153.90,490.20 155.90,491.80 Z" fill="#1e1e28"/>
<path d="M164.90,491.50 L164.90,490.50 Q169.30,487.90 173.70,490.50 L173.70,491.50 Z" fill="#a3002c" stroke="#3a0a14" stroke-width="0.8"/>
<rect x="182.10" y="447.80" width="10.90" height="43.70" fill="#a3002c"/>
<rect x="200.80" y="413.30" width="10.70" height="78.20" fill="#a3002c"/>
<line x1="187.55" y1="432.00" x2="187.55" y2="447.80" stroke="#111" stroke-width="1.40" stroke-linecap="butt"/>
<line x1="184.70" y1="432.00" x2="190.80" y2="432.00" stroke="#111" stroke-width="1.40" stroke-linecap="butt"/>
<line x1="206.15" y1="407.80" x2="206.15" y2="413.30" stroke="#111" stroke-width="1.40" stroke-linecap="butt"/>
<line x1="202.60" y1="407.80" x2="209.30" y2="407.80" stroke="#111" stroke-width="1.40" stroke-linecap="butt"/>
<text transform="translate(181.73 429.09) scale(0.9251 1)" font-size="8.98" fill="#2a2a2a" stroke="#2a2a2a" stroke-width="0.24" stroke-linejoin="round">NS</text>
<circle cx="202.60" cy="404.20" r="1.15" fill="#2a2a2a"/>
<circle cx="206.20" cy="404.20" r="1.15" fill="#2a2a2a"/>
<circle cx="209.80" cy="404.20" r="1.15" fill="#2a2a2a"/>
<rect x="60.20" y="380.70" width="10.20" height="3.20" fill="#2e4c7c" stroke="#1c2f55" stroke-width="0.6"/>
<rect x="60.20" y="393.30" width="10.20" height="3.40" fill="#a3002c" stroke="#6a0020" stroke-width="0.6"/>
<text transform="translate(73.67 385.19) scale(1.0056 1)" font-size="8.26" fill="#2a2a2a" stroke="#2a2a2a" stroke-width="0.22" stroke-linejoin="round">WT</text>
<text transform="translate(73.25 397.89) scale(1.1026 1)" font-size="8.40" fill="#2a2a2a" stroke="#2a2a2a" stroke-width="0.20" stroke-linejoin="round">KO</text>
<text transform="translate(280.07 390.89) scale(1.0358 1)" font-size="8.84" fill="#2a2a2a" stroke="#2a2a2a" stroke-width="0.21" stroke-linejoin="round">WT</text>
<text transform="translate(297.49 390.89) scale(1.1256 1)" font-size="8.84" fill="#2a2a2a" stroke="#2a2a2a" stroke-width="0.20" stroke-linejoin="round">KO</text>
<linearGradient id="g1" x1="0" y1="0" x2="0" y2="1"><stop offset="0" stop-color="#dedede"/><stop offset="1" stop-color="#ececec"/></linearGradient>
<rect x="278.00" y="396.20" width="34.70" height="26.20" fill="url(#g1)"/>
<rect x="278.00" y="426.40" width="34.70" height="22.70" fill="#cbcbcb"/>
<linearGradient id="g3" x1="0" y1="0" x2="0" y2="1"><stop offset="0" stop-color="#c2c2c2"/><stop offset="1" stop-color="#cacaca"/></linearGradient>
<rect x="278.00" y="453.00" width="34.70" height="25.60" fill="url(#g3)"/>
<clipPath id="cb1"><rect x="278.0" y="396.2" width="34.7" height="26.2"/></clipPath>
<clipPath id="cb3"><rect x="278.0" y="453.0" width="34.7" height="25.6"/></clipPath>
<g clip-path="url(#cb1)"><g filter="url(#bl3)">
<path d="M276,411.0 L282,411.2 L295,411.6 L295,414.1 L282,414.1 L276,414.5 Z" fill="#1c1c1c"/>
<path d="M295.5,410.9 C300,409.8 306,410.1 315,410.7 L315,414.3 C306,414.9 300,415.1 295.5,414.6 Z" fill="#050505"/>
</g></g>
<g filter="url(#bl)">
<rect x="284.5" y="438.9" width="12" height="1.8" rx="0.9" fill="#a4a4a4"/>
<rect x="300" y="438.9" width="12" height="1.8" rx="0.9" fill="#acacac"/>
</g>
<g clip-path="url(#cb3)"><g filter="url(#bl3)">
<path d="M276,464.6 L292,464.4 Q294.5,465.2 297,464.4 L315,464.6 L315,472.6 L297,472.8 Q294.5,470.6 292,472.8 L276,472.6 Z" fill="#0c0c0c"/>
</g></g>
<circle cx="279.60" cy="427.90" r="0.95" fill="#222"/>
<line x1="280.80" y1="442.30" x2="283.40" y2="442.30" stroke="#333" stroke-width="1.00" stroke-linecap="butt"/>
<line x1="274.20" y1="405.70" x2="277.70" y2="405.70" stroke="#111" stroke-width="1.50" stroke-linecap="butt"/>
<text transform="translate(245.85 408.69) scale(1.0787 1)" font-size="8.40" fill="#2a2a2a" stroke="#2a2a2a" stroke-width="0.20" stroke-linejoin="round">62 kD</text>
<line x1="274.20" y1="433.80" x2="277.70" y2="433.80" stroke="#111" stroke-width="1.50" stroke-linecap="butt"/>
<text transform="translate(245.85 436.79) scale(1.0787 1)" font-size="8.40" fill="#2a2a2a" stroke="#2a2a2a" stroke-width="0.20" stroke-linejoin="round">62 kD</text>
<line x1="274.20" y1="460.30" x2="277.70" y2="460.30" stroke="#111" stroke-width="1.50" stroke-linecap="butt"/>
<text transform="translate(245.97 463.29) scale(1.0733 1)" font-size="8.40" fill="#2a2a2a" stroke="#2a2a2a" stroke-width="0.20" stroke-linejoin="round">37 kD</text>
<text transform="translate(316.01 413.39) scale(1.0894 1)" font-size="8.55" fill="#2a2a2a" stroke="#2a2a2a" stroke-width="0.20" stroke-linejoin="round">pT172-AMPK</text>
<text transform="translate(316.59 443.19) scale(1.0262 1)" font-size="8.84" fill="#2a2a2a" stroke="#2a2a2a" stroke-width="0.21" stroke-linejoin="round">AMPK</text>
<text transform="translate(316.15 472.89) scale(1.0202 1)" font-size="8.98" fill="#2a2a2a" stroke="#2a2a2a" stroke-width="0.22" stroke-linejoin="round">GAPDH</text>
<text transform="translate(275.66 489.39) scale(0.9956 1)" font-size="8.55" fill="#2a2a2a" stroke="#2a2a2a" stroke-width="0.22" stroke-linejoin="round">1.00</text>
<text transform="translate(296.85 489.39) scale(1.0601 1)" font-size="8.55" fill="#2a2a2a" stroke="#2a2a2a" stroke-width="0.21" stroke-linejoin="round">2.33</text>
<line x1="53.60" y1="556.70" x2="53.60" y2="671.20" stroke="#111" stroke-width="1.60" stroke-linecap="butt"/>
<line x1="52.80" y1="670.40" x2="223.50" y2="670.40" stroke="#111" stroke-width="1.60" stroke-linecap="butt"/>
<line x1="50.10" y1="559.00" x2="53.60" y2="559.00" stroke="#111" stroke-width="1.40" stroke-linecap="butt"/>
<text transform="translate(30.36 561.79) scale(1.0350 1)" font-size="9.45" fill="#2a2a2a" stroke="#2a2a2a" stroke-width="0.21" stroke-linejoin="round">100</text>
<line x1="50.10" y1="581.30" x2="53.60" y2="581.30" stroke="#111" stroke-width="1.40" stroke-linecap="butt"/>
<text transform="translate(35.87 584.09) scale(1.0274 1)" font-size="9.45" fill="#2a2a2a" stroke="#2a2a2a" stroke-width="0.21" stroke-linejoin="round">80</text>
<line x1="50.10" y1="603.60" x2="53.60" y2="603.60" stroke="#111" stroke-width="1.40" stroke-linecap="butt"/>
<text transform="translate(35.87 606.39) scale(1.0272 1)" font-size="9.45" fill="#2a2a2a" stroke="#2a2a2a" stroke-width="0.21" stroke-linejoin="round">60</text>
<line x1="50.10" y1="625.80" x2="53.60" y2="625.80" stroke="#111" stroke-width="1.40" stroke-linecap="butt"/>
<text transform="translate(35.87 628.59) scale(1.0278 1)" font-size="9.45" fill="#2a2a2a" stroke="#2a2a2a" stroke-width="0.21" stroke-linejoin="round">40</text>
<line x1="50.10" y1="648.10" x2="53.60" y2="648.10" stroke="#111" stroke-width="1.40" stroke-linecap="butt"/>
<text transform="translate(35.87 650.89) scale(1.0272 1)" font-size="9.45" fill="#2a2a2a" stroke="#2a2a2a" stroke-width="0.21" stroke-linejoin="round">20</text>
<line x1="50.10" y1="670.40" x2="53.60" y2="670.40" stroke="#111" stroke-width="1.40" stroke-linecap="butt"/>
<text transform="translate(41.40 673.19) scale(1.0013 1)" font-size="9.45" fill="#2a2a2a" stroke="#2a2a2a" stroke-width="0.22" stroke-linejoin="round">0</text>
<text transform="translate(25.29 666.41) rotate(-90) scale(0.8004 1)" font-size="11.16" fill="#2a2a2a" stroke="#2a2a2a" stroke-width="0.27" stroke-linejoin="round">OCR (pmol/min/ug protein)</text>
<line x1="53.10" y1="670.40" x2="53.10" y2="673.60" stroke="#111" stroke-width="1.30" stroke-linecap="butt"/>
<line x1="136.50" y1="670.40" x2="136.50" y2="673.60" stroke="#111" stroke-width="1.30" stroke-linecap="butt"/>
<line x1="219.90" y1="670.40" x2="219.90" y2="673.60" stroke="#111" stroke-width="1.30" stroke-linecap="butt"/>
<text transform="translate(50.62 684.89) scale(1.1132 1)" font-size="8.98" fill="#2a2a2a" stroke="#2a2a2a" stroke-width="0.20" stroke-linejoin="round">0</text>
<text transform="translate(131.64 684.89) scale(1.0322 1)" font-size="8.98" fill="#2a2a2a" stroke="#2a2a2a" stroke-width="0.21" stroke-linejoin="round">50</text>
<text transform="translate(212.63 684.89) scale(0.9877 1)" font-size="8.98" fill="#2a2a2a" stroke="#2a2a2a" stroke-width="0.22" stroke-linejoin="round">100</text>
<text transform="translate(109.91 700.39) scale(0.8031 1)" font-size="10.87" fill="#2a2a2a" stroke="#2a2a2a" stroke-width="0.27" stroke-linejoin="round">Time (minutes)</text>
<line x1="53.60" y1="581.80" x2="83.70" y2="581.80" stroke="#111" stroke-width="1.60" stroke-linecap="butt"/>
<circle cx="65.40" cy="577.40" r="1.20" fill="#2a2a2a"/>
<circle cx="69.20" cy="577.40" r="1.20" fill="#2a2a2a"/>
<circle cx="73.10" cy="577.40" r="1.20" fill="#2a2a2a"/>
<text transform="translate(70.69 595.69) scale(1.0207 1)" font-size="8.69" fill="#2a2a2a" stroke="#2a2a2a" stroke-width="0.22" stroke-linejoin="round">Oligomycin</text>
<line x1="92.10" y1="598.30" x2="92.10" y2="613.90" stroke="#111" stroke-width="1.50" stroke-linecap="butt"/>
<polygon points="89.30,613.40 94.90,613.40 92.10,619.40" fill="#111"/>
<text transform="translate(120.45 560.39) scale(0.9352 1)" font-size="8.55" fill="#2a2a2a" stroke="#2a2a2a" stroke-width="0.24" stroke-linejoin="round">FCCP</text>
<line x1="131.10" y1="563.20" x2="131.10" y2="579.70" stroke="#111" stroke-width="1.50" stroke-linecap="butt"/>
<polygon points="128.30,579.20 133.90,579.20 131.10,585.20" fill="#111"/>
<text transform="translate(160.91 563.09) scale(0.9388 1)" font-size="9.13" fill="#2a2a2a" stroke="#2a2a2a" stroke-width="0.23" stroke-linejoin="round">Rotenone</text>
<line x1="179.90" y1="565.00" x2="179.90" y2="581.40" stroke="#111" stroke-width="1.50" stroke-linecap="butt"/>
<polygon points="177.10,580.90 182.70,580.90 179.90,586.90" fill="#111"/>
<line x1="155.20" y1="604.80" x2="175.50" y2="604.80" stroke="#111" stroke-width="1.60" stroke-linecap="butt"/>
<circle cx="163.50" cy="600.30" r="1.20" fill="#2a2a2a"/>
<circle cx="167.50" cy="600.30" r="1.20" fill="#2a2a2a"/>
<polyline points="55.00,628.00 69.30,628.60 83.40,628.60 98.60,651.40 113.00,656.00 127.60,657.60 142.10,619.40 156.30,625.00 170.70,626.60 185.30,662.40 200.00,662.60 214.60,663.50" fill="none" stroke="#a0042e" stroke-width="1.80" stroke-linejoin="round" stroke-linecap="round"/>
<rect x="52.60" y="625.80" width="4.80" height="4.40" fill="#a0042e" rx="0.6"/>
<rect x="66.90" y="626.40" width="4.80" height="4.40" fill="#a0042e" rx="0.6"/>
<rect x="81.00" y="626.40" width="4.80" height="4.40" fill="#a0042e" rx="0.6"/>
<rect x="96.20" y="649.20" width="4.80" height="4.40" fill="#a0042e" rx="0.6"/>
<rect x="110.60" y="653.80" width="4.80" height="4.40" fill="#a0042e" rx="0.6"/>
<rect x="125.20" y="655.40" width="4.80" height="4.40" fill="#a0042e" rx="0.6"/>
<rect x="139.70" y="617.20" width="4.80" height="4.40" fill="#a0042e" rx="0.6"/>
<rect x="153.90" y="622.80" width="4.80" height="4.40" fill="#a0042e" rx="0.6"/>
<rect x="168.30" y="624.40" width="4.80" height="4.40" fill="#a0042e" rx="0.6"/>
<rect x="182.90" y="660.20" width="4.80" height="4.40" fill="#a0042e" rx="0.6"/>
<rect x="197.60" y="660.40" width="4.80" height="4.40" fill="#a0042e" rx="0.6"/>
<rect x="212.20" y="661.30" width="4.80" height="4.40" fill="#a0042e" rx="0.6"/>
<polyline points="55.00,611.90 69.30,611.90 83.40,611.90 98.60,641.40 113.00,651.60 127.60,654.00 142.10,577.80 156.30,594.00 170.70,583.90 185.30,660.30 200.00,661.40 214.60,662.80" fill="none" stroke="#2a4370" stroke-width="1.80" stroke-linejoin="round" stroke-linecap="round"/>
<line x1="55.00" y1="609.40" x2="55.00" y2="614.40" stroke="#2a4370" stroke-width="1.20" stroke-linecap="butt"/>
<line x1="52.90" y1="609.40" x2="57.10" y2="609.40" stroke="#2a4370" stroke-width="1.20" stroke-linecap="butt"/>
<line x1="52.90" y1="614.40" x2="57.10" y2="614.40" stroke="#2a4370" stroke-width="1.20" stroke-linecap="butt"/>
<circle cx="55.00" cy="611.90" r="2.1" fill="#2a4370"/>
<line x1="69.30" y1="609.40" x2="69.30" y2="614.40" stroke="#2a4370" stroke-width="1.20" stroke-linecap="butt"/>
<line x1="67.20" y1="609.40" x2="71.40" y2="609.40" stroke="#2a4370" stroke-width="1.20" stroke-linecap="butt"/>
<line x1="67.20" y1="614.40" x2="71.40" y2="614.40" stroke="#2a4370" stroke-width="1.20" stroke-linecap="butt"/>
<circle cx="69.30" cy="611.90" r="2.1" fill="#2a4370"/>
<line x1="83.40" y1="609.40" x2="83.40" y2="614.40" stroke="#2a4370" stroke-width="1.20" stroke-linecap="butt"/>
<line x1="81.30" y1="609.40" x2="85.50" y2="609.40" stroke="#2a4370" stroke-width="1.20" stroke-linecap="butt"/>
<line x1="81.30" y1="614.40" x2="85.50" y2="614.40" stroke="#2a4370" stroke-width="1.20" stroke-linecap="butt"/>
<circle cx="83.40" cy="611.90" r="2.1" fill="#2a4370"/>
<line x1="98.60" y1="637.30" x2="98.60" y2="645.20" stroke="#2a4370" stroke-width="1.20" stroke-linecap="butt"/>
<line x1="96.50" y1="637.30" x2="100.70" y2="637.30" stroke="#2a4370" stroke-width="1.20" stroke-linecap="butt"/>
<line x1="96.50" y1="645.20" x2="100.70" y2="645.20" stroke="#2a4370" stroke-width="1.20" stroke-linecap="butt"/>
<circle cx="98.60" cy="641.40" r="2.1" fill="#2a4370"/>
<line x1="113.00" y1="650.00" x2="113.00" y2="653.20" stroke="#2a4370" stroke-width="1.20" stroke-linecap="butt"/>
<line x1="110.90" y1="650.00" x2="115.10" y2="650.00" stroke="#2a4370" stroke-width="1.20" stroke-linecap="butt"/>
<line x1="110.90" y1="653.20" x2="115.10" y2="653.20" stroke="#2a4370" stroke-width="1.20" stroke-linecap="butt"/>
<circle cx="113.00" cy="651.60" r="2.1" fill="#2a4370"/>
<line x1="127.60" y1="652.40" x2="127.60" y2="655.60" stroke="#2a4370" stroke-width="1.20" stroke-linecap="butt"/>
<line x1="125.50" y1="652.40" x2="129.70" y2="652.40" stroke="#2a4370" stroke-width="1.20" stroke-linecap="butt"/>
<line x1="125.50" y1="655.60" x2="129.70" y2="655.60" stroke="#2a4370" stroke-width="1.20" stroke-linecap="butt"/>
<circle cx="127.60" cy="654.00" r="2.1" fill="#2a4370"/>
<line x1="142.10" y1="567.60" x2="142.10" y2="588.80" stroke="#2a4370" stroke-width="1.20" stroke-linecap="butt"/>
<line x1="140.00" y1="567.60" x2="144.20" y2="567.60" stroke="#2a4370" stroke-width="1.20" stroke-linecap="butt"/>
<line x1="140.00" y1="588.80" x2="144.20" y2="588.80" stroke="#2a4370" stroke-width="1.20" stroke-linecap="butt"/>
<circle cx="142.10" cy="577.80" r="2.1" fill="#2a4370"/>
<line x1="156.30" y1="587.80" x2="156.30" y2="600.90" stroke="#2a4370" stroke-width="1.20" stroke-linecap="butt"/>
<line x1="154.20" y1="587.80" x2="158.40" y2="587.80" stroke="#2a4370" stroke-width="1.20" stroke-linecap="butt"/>
<line x1="154.20" y1="600.90" x2="158.40" y2="600.90" stroke="#2a4370" stroke-width="1.20" stroke-linecap="butt"/>
<circle cx="156.30" cy="594.00" r="2.1" fill="#2a4370"/>
<line x1="170.70" y1="579.70" x2="170.70" y2="588.10" stroke="#2a4370" stroke-width="1.20" stroke-linecap="butt"/>
<line x1="168.60" y1="579.70" x2="172.80" y2="579.70" stroke="#2a4370" stroke-width="1.20" stroke-linecap="butt"/>
<line x1="168.60" y1="588.10" x2="172.80" y2="588.10" stroke="#2a4370" stroke-width="1.20" stroke-linecap="butt"/>
<circle cx="170.70" cy="583.90" r="2.1" fill="#2a4370"/>
<line x1="185.30" y1="658.90" x2="185.30" y2="661.70" stroke="#2a4370" stroke-width="1.20" stroke-linecap="butt"/>
<line x1="183.20" y1="658.90" x2="187.40" y2="658.90" stroke="#2a4370" stroke-width="1.20" stroke-linecap="butt"/>
<line x1="183.20" y1="661.70" x2="187.40" y2="661.70" stroke="#2a4370" stroke-width="1.20" stroke-linecap="butt"/>
<circle cx="185.30" cy="660.30" r="2.1" fill="#2a4370"/>
<line x1="200.00" y1="660.00" x2="200.00" y2="662.80" stroke="#2a4370" stroke-width="1.20" stroke-linecap="butt"/>
<line x1="197.90" y1="660.00" x2="202.10" y2="660.00" stroke="#2a4370" stroke-width="1.20" stroke-linecap="butt"/>
<line x1="197.90" y1="662.80" x2="202.10" y2="662.80" stroke="#2a4370" stroke-width="1.20" stroke-linecap="butt"/>
<circle cx="200.00" cy="661.40" r="2.1" fill="#2a4370"/>
<line x1="214.60" y1="661.40" x2="214.60" y2="664.20" stroke="#2a4370" stroke-width="1.20" stroke-linecap="butt"/>
<line x1="212.50" y1="661.40" x2="216.70" y2="661.40" stroke="#2a4370" stroke-width="1.20" stroke-linecap="butt"/>
<line x1="212.50" y1="664.20" x2="216.70" y2="664.20" stroke="#2a4370" stroke-width="1.20" stroke-linecap="butt"/>
<circle cx="214.60" cy="662.80" r="2.1" fill="#2a4370"/>
<line x1="226.90" y1="560.00" x2="238.50" y2="560.00" stroke="#2e4c7c" stroke-width="1.90" stroke-linecap="butt"/>
<circle cx="232.6" cy="560.0" r="2.1" fill="#2e4c7c"/>
<line x1="226.90" y1="573.10" x2="238.50" y2="573.10" stroke="#a3002c" stroke-width="1.90" stroke-linecap="butt"/>
<rect x="230.40" y="570.90" width="4.40" height="4.40" fill="#a3002c"/>
<text transform="translate(242.88 562.89) scale(0.9519 1)" font-size="7.97" fill="#2a2a2a" stroke="#2a2a2a" stroke-width="0.23" stroke-linejoin="round">WT</text>
<text transform="translate(242.51 575.69) scale(1.1178 1)" font-size="7.67" fill="#2a2a2a" stroke="#2a2a2a" stroke-width="0.20" stroke-linejoin="round">KO</text>
<line x1="307.10" y1="555.80" x2="307.10" y2="671.20" stroke="#111" stroke-width="1.60" stroke-linecap="butt"/>
<line x1="306.30" y1="670.40" x2="479.30" y2="670.40" stroke="#111" stroke-width="1.60" stroke-linecap="butt"/>
<line x1="303.70" y1="670.40" x2="307.10" y2="670.40" stroke="#111" stroke-width="1.40" stroke-linecap="butt"/>
<text transform="translate(295.38 672.89) scale(1.0005 1)" font-size="9.30" fill="#2a2a2a" stroke="#2a2a2a" stroke-width="0.22" stroke-linejoin="round">0</text>
<line x1="303.70" y1="647.70" x2="307.10" y2="647.70" stroke="#111" stroke-width="1.40" stroke-linecap="butt"/>
<text transform="translate(295.49 650.19) scale(0.9951 1)" font-size="9.30" fill="#2a2a2a" stroke="#2a2a2a" stroke-width="0.22" stroke-linejoin="round">1</text>
<line x1="303.70" y1="625.00" x2="307.10" y2="625.00" stroke="#111" stroke-width="1.40" stroke-linecap="butt"/>
<text transform="translate(295.49 627.49) scale(0.9981 1)" font-size="9.30" fill="#2a2a2a" stroke="#2a2a2a" stroke-width="0.22" stroke-linejoin="round">2</text>
<line x1="303.70" y1="602.30" x2="307.10" y2="602.30" stroke="#111" stroke-width="1.40" stroke-linecap="butt"/>
<text transform="translate(295.42 604.79) scale(1.0001 1)" font-size="9.30" fill="#2a2a2a" stroke="#2a2a2a" stroke-width="0.22" stroke-linejoin="round">3</text>
<line x1="303.70" y1="579.60" x2="307.10" y2="579.60" stroke="#111" stroke-width="1.40" stroke-linecap="butt"/>
<text transform="translate(295.27 582.09) scale(1.0031 1)" font-size="9.30" fill="#2a2a2a" stroke="#2a2a2a" stroke-width="0.22" stroke-linejoin="round">4</text>
<line x1="303.70" y1="556.90" x2="307.10" y2="556.90" stroke="#111" stroke-width="1.40" stroke-linecap="butt"/>
<text transform="translate(295.41 559.39) scale(1.0001 1)" font-size="9.30" fill="#2a2a2a" stroke="#2a2a2a" stroke-width="0.22" stroke-linejoin="round">5</text>
<text transform="translate(289.09 666.61) rotate(-90) scale(0.7531 1)" font-size="11.60" fill="#2a2a2a" stroke="#2a2a2a" stroke-width="0.29" stroke-linejoin="round">ECAR (mpH/min/ug protein)</text>
<line x1="307.30" y1="670.40" x2="307.30" y2="673.60" stroke="#111" stroke-width="1.30" stroke-linecap="butt"/>
<text transform="translate(304.12 684.99) scale(1.1315 1)" font-size="8.84" fill="#2a2a2a" stroke="#2a2a2a" stroke-width="0.19" stroke-linejoin="round">0</text>
<line x1="349.60" y1="670.40" x2="349.60" y2="673.60" stroke="#111" stroke-width="1.30" stroke-linecap="butt"/>
<text transform="translate(344.34 684.99) scale(1.0597 1)" font-size="8.84" fill="#2a2a2a" stroke="#2a2a2a" stroke-width="0.21" stroke-linejoin="round">20</text>
<line x1="391.75" y1="670.40" x2="391.75" y2="673.60" stroke="#111" stroke-width="1.30" stroke-linecap="butt"/>
<text transform="translate(386.75 684.99) scale(1.0321 1)" font-size="8.84" fill="#2a2a2a" stroke="#2a2a2a" stroke-width="0.21" stroke-linejoin="round">40</text>
<line x1="433.75" y1="670.40" x2="433.75" y2="673.60" stroke="#111" stroke-width="1.30" stroke-linecap="butt"/>
<text transform="translate(428.48 684.99) scale(1.0602 1)" font-size="8.84" fill="#2a2a2a" stroke="#2a2a2a" stroke-width="0.21" stroke-linejoin="round">60</text>
<line x1="476.60" y1="670.40" x2="476.60" y2="673.60" stroke="#111" stroke-width="1.30" stroke-linecap="butt"/>
<text transform="translate(471.41 684.99) scale(1.0527 1)" font-size="8.84" fill="#2a2a2a" stroke="#2a2a2a" stroke-width="0.21" stroke-linejoin="round">80</text>
<text transform="translate(363.71 700.39) scale(0.8199 1)" font-size="10.87" fill="#2a2a2a" stroke="#2a2a2a" stroke-width="0.27" stroke-linejoin="round">Time (minutes)</text>
<line x1="307.10" y1="606.00" x2="337.30" y2="606.00" stroke="#111" stroke-width="1.60" stroke-linecap="butt"/>
<circle cx="319.00" cy="601.90" r="1.20" fill="#2a2a2a"/>
<circle cx="322.70" cy="601.90" r="1.20" fill="#2a2a2a"/>
<circle cx="326.40" cy="601.90" r="1.20" fill="#2a2a2a"/>
<text transform="translate(317.39 575.69) scale(0.8907 1)" font-size="9.42" fill="#2a2a2a" stroke="#2a2a2a" stroke-width="0.25" stroke-linejoin="round">Glucose</text>
<line x1="338.30" y1="576.70" x2="338.30" y2="593.00" stroke="#111" stroke-width="1.50" stroke-linecap="butt"/>
<polygon points="335.50,592.50 341.10,592.50 338.30,598.50" fill="#111"/>
<text transform="translate(364.88 560.19) scale(1.0373 1)" font-size="8.69" fill="#2a2a2a" stroke="#2a2a2a" stroke-width="0.21" stroke-linejoin="round">Oligomycin</text>
<line x1="386.90" y1="561.90" x2="386.90" y2="578.00" stroke="#111" stroke-width="1.50" stroke-linecap="butt"/>
<polygon points="384.10,577.50 389.70,577.50 386.90,583.50" fill="#111"/>
<text transform="translate(418.56 545.89) scale(1.0609 1)" font-size="8.40" fill="#2a2a2a" stroke="#2a2a2a" stroke-width="0.21" stroke-linejoin="round">2-DG</text>
<line x1="429.30" y1="548.00" x2="429.30" y2="563.40" stroke="#111" stroke-width="1.50" stroke-linecap="butt"/>
<polygon points="426.50,562.90 432.10,562.90 429.30,568.90" fill="#111"/>
<circle cx="377.70" cy="574.20" r="1.10" fill="#2a2a2a"/>
<polyline points="308.50,620.60 322.50,621.00 336.30,621.30 350.20,587.70 363.80,576.70 377.70,584.00 391.20,588.60 405.40,569.50 418.90,570.30 432.90,577.90 446.90,591.90 460.40,599.90" fill="none" stroke="#a0042e" stroke-width="1.80" stroke-linejoin="round" stroke-linecap="round"/>
<line x1="308.50" y1="618.00" x2="308.50" y2="622.90" stroke="#a0042e" stroke-width="1.20" stroke-linecap="butt"/>
<line x1="306.40" y1="618.00" x2="310.60" y2="618.00" stroke="#a0042e" stroke-width="1.20" stroke-linecap="butt"/>
<line x1="306.40" y1="622.90" x2="310.60" y2="622.90" stroke="#a0042e" stroke-width="1.20" stroke-linecap="butt"/>
<polygon points="305.90,618.60 311.10,618.60 308.50,623.00" fill="#a0042e"/>
<line x1="322.50" y1="618.00" x2="322.50" y2="623.20" stroke="#a0042e" stroke-width="1.20" stroke-linecap="butt"/>
<line x1="320.40" y1="618.00" x2="324.60" y2="618.00" stroke="#a0042e" stroke-width="1.20" stroke-linecap="butt"/>
<line x1="320.40" y1="623.20" x2="324.60" y2="623.20" stroke="#a0042e" stroke-width="1.20" stroke-linecap="butt"/>
<polygon points="319.90,619.00 325.10,619.00 322.50,623.40" fill="#a0042e"/>
<line x1="336.30" y1="620.00" x2="336.30" y2="622.60" stroke="#a0042e" stroke-width="1.20" stroke-linecap="butt"/>
<line x1="334.20" y1="620.00" x2="338.40" y2="620.00" stroke="#a0042e" stroke-width="1.20" stroke-linecap="butt"/>
<line x1="334.20" y1="622.60" x2="338.40" y2="622.60" stroke="#a0042e" stroke-width="1.20" stroke-linecap="butt"/>
<polygon points="333.70,619.30 338.90,619.30 336.30,623.70" fill="#a0042e"/>
<line x1="350.20" y1="580.60" x2="350.20" y2="595.00" stroke="#a0042e" stroke-width="1.20" stroke-linecap="butt"/>
<line x1="348.10" y1="580.60" x2="352.30" y2="580.60" stroke="#a0042e" stroke-width="1.20" stroke-linecap="butt"/>
<line x1="348.10" y1="595.00" x2="352.30" y2="595.00" stroke="#a0042e" stroke-width="1.20" stroke-linecap="butt"/>
<polygon points="347.60,585.70 352.80,585.70 350.20,590.10" fill="#a0042e"/>
<line x1="363.80" y1="568.50" x2="363.80" y2="585.40" stroke="#a0042e" stroke-width="1.20" stroke-linecap="butt"/>
<line x1="361.70" y1="568.50" x2="365.90" y2="568.50" stroke="#a0042e" stroke-width="1.20" stroke-linecap="butt"/>
<line x1="361.70" y1="585.40" x2="365.90" y2="585.40" stroke="#a0042e" stroke-width="1.20" stroke-linecap="butt"/>
<polygon points="361.20,574.70 366.40,574.70 363.80,579.10" fill="#a0042e"/>
<line x1="377.70" y1="579.60" x2="377.70" y2="589.60" stroke="#a0042e" stroke-width="1.20" stroke-linecap="butt"/>
<line x1="375.60" y1="579.60" x2="379.80" y2="579.60" stroke="#a0042e" stroke-width="1.20" stroke-linecap="butt"/>
<line x1="375.60" y1="589.60" x2="379.80" y2="589.60" stroke="#a0042e" stroke-width="1.20" stroke-linecap="butt"/>
<polygon points="375.10,582.00 380.30,582.00 377.70,586.40" fill="#a0042e"/>
<line x1="391.20" y1="587.40" x2="391.20" y2="589.80" stroke="#a0042e" stroke-width="1.20" stroke-linecap="butt"/>
<line x1="389.10" y1="587.40" x2="393.30" y2="587.40" stroke="#a0042e" stroke-width="1.20" stroke-linecap="butt"/>
<line x1="389.10" y1="589.80" x2="393.30" y2="589.80" stroke="#a0042e" stroke-width="1.20" stroke-linecap="butt"/>
<polygon points="388.60,586.60 393.80,586.60 391.20,591.00" fill="#a0042e"/>
<line x1="405.40" y1="567.90" x2="405.40" y2="571.00" stroke="#a0042e" stroke-width="1.20" stroke-linecap="butt"/>
<line x1="403.30" y1="567.90" x2="407.50" y2="567.90" stroke="#a0042e" stroke-width="1.20" stroke-linecap="butt"/>
<line x1="403.30" y1="571.00" x2="407.50" y2="571.00" stroke="#a0042e" stroke-width="1.20" stroke-linecap="butt"/>
<polygon points="402.80,567.50 408.00,567.50 405.40,571.90" fill="#a0042e"/>
<line x1="418.90" y1="566.40" x2="418.90" y2="573.20" stroke="#a0042e" stroke-width="1.20" stroke-linecap="butt"/>
<line x1="416.80" y1="566.40" x2="421.00" y2="566.40" stroke="#a0042e" stroke-width="1.20" stroke-linecap="butt"/>
<line x1="416.80" y1="573.20" x2="421.00" y2="573.20" stroke="#a0042e" stroke-width="1.20" stroke-linecap="butt"/>
<polygon points="416.30,568.30 421.50,568.30 418.90,572.70" fill="#a0042e"/>
<line x1="432.90" y1="567.50" x2="432.90" y2="588.90" stroke="#a0042e" stroke-width="1.20" stroke-linecap="butt"/>
<line x1="430.80" y1="567.50" x2="435.00" y2="567.50" stroke="#a0042e" stroke-width="1.20" stroke-linecap="butt"/>
<line x1="430.80" y1="588.90" x2="435.00" y2="588.90" stroke="#a0042e" stroke-width="1.20" stroke-linecap="butt"/>
<polygon points="430.30,575.90 435.50,575.90 432.90,580.30" fill="#a0042e"/>
<line x1="446.90" y1="585.50" x2="446.90" y2="594.90" stroke="#a0042e" stroke-width="1.20" stroke-linecap="butt"/>
<line x1="444.80" y1="585.50" x2="449.00" y2="585.50" stroke="#a0042e" stroke-width="1.20" stroke-linecap="butt"/>
<line x1="444.80" y1="594.90" x2="449.00" y2="594.90" stroke="#a0042e" stroke-width="1.20" stroke-linecap="butt"/>
<polygon points="444.30,589.90 449.50,589.90 446.90,594.30" fill="#a0042e"/>
<line x1="460.40" y1="595.50" x2="460.40" y2="605.40" stroke="#a0042e" stroke-width="1.20" stroke-linecap="butt"/>
<line x1="458.30" y1="595.50" x2="462.50" y2="595.50" stroke="#a0042e" stroke-width="1.20" stroke-linecap="butt"/>
<line x1="458.30" y1="605.40" x2="462.50" y2="605.40" stroke="#a0042e" stroke-width="1.20" stroke-linecap="butt"/>
<polygon points="457.80,597.90 463.00,597.90 460.40,602.30" fill="#a0042e"/>
<polyline points="308.50,646.00 322.50,640.60 336.30,642.70 350.20,606.50 363.80,595.40 377.70,602.30 391.20,592.70 405.40,572.90 418.90,574.90 432.90,580.90 446.90,600.30 460.40,614.80" fill="none" stroke="#2a4370" stroke-width="1.80" stroke-linejoin="round" stroke-linecap="round"/>
<circle cx="308.50" cy="646.00" r="2.1" fill="#2a4370"/>
<circle cx="322.50" cy="640.60" r="2.1" fill="#2a4370"/>
<circle cx="336.30" cy="642.70" r="2.1" fill="#2a4370"/>
<line x1="350.20" y1="604.60" x2="350.20" y2="608.40" stroke="#2a4370" stroke-width="1.20" stroke-linecap="butt"/>
<line x1="348.10" y1="604.60" x2="352.30" y2="604.60" stroke="#2a4370" stroke-width="1.20" stroke-linecap="butt"/>
<line x1="348.10" y1="608.40" x2="352.30" y2="608.40" stroke="#2a4370" stroke-width="1.20" stroke-linecap="butt"/>
<circle cx="350.20" cy="606.50" r="2.1" fill="#2a4370"/>
<line x1="363.80" y1="590.80" x2="363.80" y2="599.20" stroke="#2a4370" stroke-width="1.20" stroke-linecap="butt"/>
<line x1="361.70" y1="590.80" x2="365.90" y2="590.80" stroke="#2a4370" stroke-width="1.20" stroke-linecap="butt"/>
<line x1="361.70" y1="599.20" x2="365.90" y2="599.20" stroke="#2a4370" stroke-width="1.20" stroke-linecap="butt"/>
<circle cx="363.80" cy="595.40" r="2.1" fill="#2a4370"/>
<line x1="377.70" y1="597.30" x2="377.70" y2="607.50" stroke="#2a4370" stroke-width="1.20" stroke-linecap="butt"/>
<line x1="375.60" y1="597.30" x2="379.80" y2="597.30" stroke="#2a4370" stroke-width="1.20" stroke-linecap="butt"/>
<line x1="375.60" y1="607.50" x2="379.80" y2="607.50" stroke="#2a4370" stroke-width="1.20" stroke-linecap="butt"/>
<circle cx="377.70" cy="602.30" r="2.1" fill="#2a4370"/>
<line x1="391.20" y1="590.60" x2="391.20" y2="594.80" stroke="#2a4370" stroke-width="1.20" stroke-linecap="butt"/>
<line x1="389.10" y1="590.60" x2="393.30" y2="590.60" stroke="#2a4370" stroke-width="1.20" stroke-linecap="butt"/>
<line x1="389.10" y1="594.80" x2="393.30" y2="594.80" stroke="#2a4370" stroke-width="1.20" stroke-linecap="butt"/>
<circle cx="391.20" cy="592.70" r="2.1" fill="#2a4370"/>
<line x1="405.40" y1="571.20" x2="405.40" y2="574.60" stroke="#2a4370" stroke-width="1.20" stroke-linecap="butt"/>
<line x1="403.30" y1="571.20" x2="407.50" y2="571.20" stroke="#2a4370" stroke-width="1.20" stroke-linecap="butt"/>
<line x1="403.30" y1="574.60" x2="407.50" y2="574.60" stroke="#2a4370" stroke-width="1.20" stroke-linecap="butt"/>
<circle cx="405.40" cy="572.90" r="2.1" fill="#2a4370"/>
<line x1="418.90" y1="573.20" x2="418.90" y2="576.60" stroke="#2a4370" stroke-width="1.20" stroke-linecap="butt"/>
<line x1="416.80" y1="573.20" x2="421.00" y2="573.20" stroke="#2a4370" stroke-width="1.20" stroke-linecap="butt"/>
<line x1="416.80" y1="576.60" x2="421.00" y2="576.60" stroke="#2a4370" stroke-width="1.20" stroke-linecap="butt"/>
<circle cx="418.90" cy="574.90" r="2.1" fill="#2a4370"/>
<line x1="432.90" y1="577.50" x2="432.90" y2="584.00" stroke="#2a4370" stroke-width="1.20" stroke-linecap="butt"/>
<line x1="430.80" y1="577.50" x2="435.00" y2="577.50" stroke="#2a4370" stroke-width="1.20" stroke-linecap="butt"/>
<line x1="430.80" y1="584.00" x2="435.00" y2="584.00" stroke="#2a4370" stroke-width="1.20" stroke-linecap="butt"/>
<circle cx="432.90" cy="580.90" r="2.1" fill="#2a4370"/>
<line x1="446.90" y1="595.90" x2="446.90" y2="606.80" stroke="#2a4370" stroke-width="1.20" stroke-linecap="butt"/>
<line x1="444.80" y1="595.90" x2="449.00" y2="595.90" stroke="#2a4370" stroke-width="1.20" stroke-linecap="butt"/>
<line x1="444.80" y1="606.80" x2="449.00" y2="606.80" stroke="#2a4370" stroke-width="1.20" stroke-linecap="butt"/>
<circle cx="446.90" cy="600.30" r="2.1" fill="#2a4370"/>
<line x1="460.40" y1="606.80" x2="460.40" y2="622.20" stroke="#2a4370" stroke-width="1.20" stroke-linecap="butt"/>
<line x1="458.30" y1="606.80" x2="462.50" y2="606.80" stroke="#2a4370" stroke-width="1.20" stroke-linecap="butt"/>
<line x1="458.30" y1="622.20" x2="462.50" y2="622.20" stroke="#2a4370" stroke-width="1.20" stroke-linecap="butt"/>
<circle cx="460.40" cy="614.80" r="2.1" fill="#2a4370"/>
<line x1="483.40" y1="558.80" x2="495.40" y2="558.80" stroke="#2e4c7c" stroke-width="1.90" stroke-linecap="butt"/>
<circle cx="489.2" cy="558.8" r="2.1" fill="#2e4c7c"/>
<line x1="483.40" y1="571.20" x2="495.40" y2="571.20" stroke="#a3002c" stroke-width="1.90" stroke-linecap="butt"/>
<polygon points="486.6,569.2 491.8,569.2 489.2,573.6" fill="#a3002c"/>
<text transform="translate(499.28 560.89) scale(1.0114 1)" font-size="7.82" fill="#2a2a2a" stroke="#2a2a2a" stroke-width="0.22" stroke-linejoin="round">WT</text>
<text transform="translate(498.91 573.69) scale(1.0970 1)" font-size="7.82" fill="#2a2a2a" stroke="#2a2a2a" stroke-width="0.20" stroke-linejoin="round">KO</text>
<rect x="0.00" y="0.00" width="520.00" height="1.50" fill="#000"/>
<rect x="0.00" y="0.00" width="1.70" height="711.00" fill="#000"/>
<rect x="518.10" y="0.00" width="1.90" height="711.00" fill="#000"/>
<rect x="0.00" y="708.80" width="520.00" height="2.20" fill="#000"/>
</svg>
</body></html>
